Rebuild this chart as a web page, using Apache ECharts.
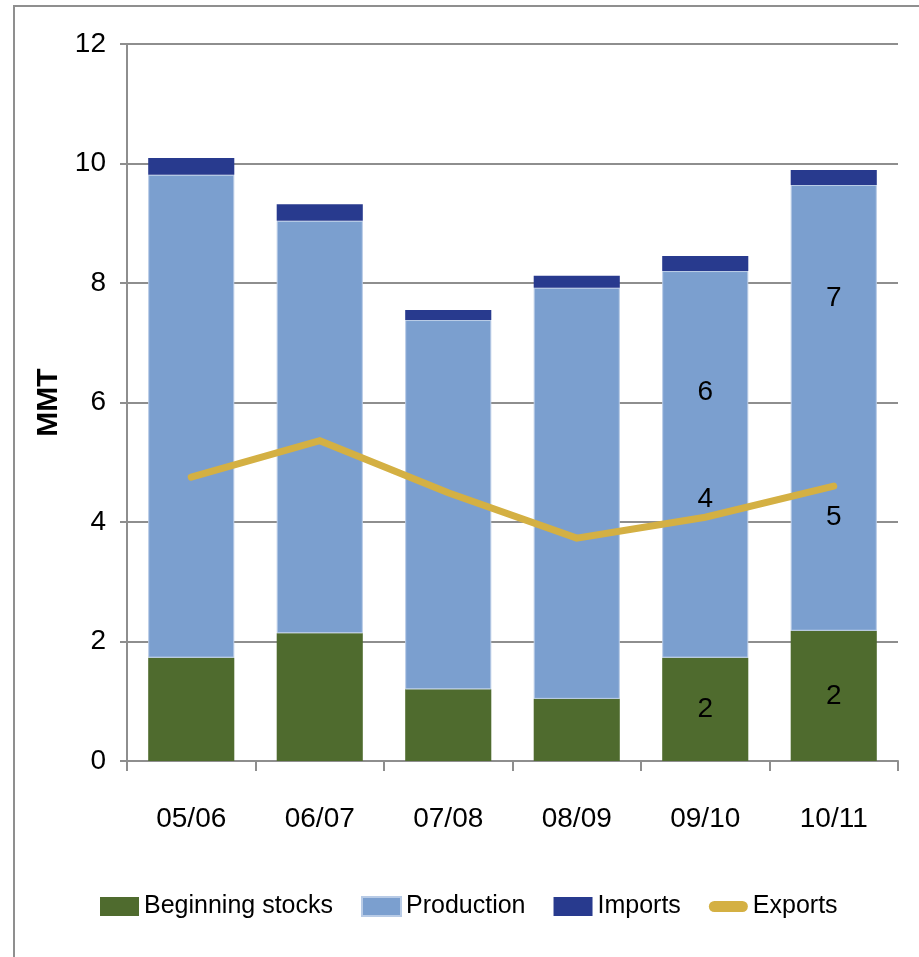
<!DOCTYPE html>
<html>
<head>
<meta charset="utf-8">
<script src="https://cdn.jsdelivr.net/npm/echarts@6/dist/echarts.min.js"></script>
<style>
html,body{margin:0;padding:0;background:#fff;}
#c{width:919px;height:957px;}
</style>
</head>
<body>
<div id="c"></div>
<script>
const categories = ['05/06', '06/07', '07/08', '08/09', '09/10', '10/11'];
const beginningStocks = [1.73, 2.14, 1.20, 1.04, 1.73, 2.18];
const production = [8.08, 6.90, 6.18, 6.88, 6.47, 7.46];
const imports = [0.28, 0.28, 0.17, 0.20, 0.25, 0.25];
const exportsData = [4.75, 5.36, 4.49, 3.73, 4.08, 4.60];
const yTicks = [0, 2, 4, 6, 8, 10, 12];
const labelledCategories = ['09/10', '10/11'];

const FONT = "'Liberation Sans', Arial, sans-serif";
const FS = 28;

function withLabels(values, labelFor) {
  return values.map((v, i) => {
    const cfg = labelledCategories.includes(categories[i]) ? labelFor(i) : null;
    return cfg ? { value: v, label: Object.assign({ show: true, formatter: p => String(Math.round(p.value)), color: '#000', fontFamily: FONT, fontSize: FS }, cfg) } : v;
  });
}

const chart = echarts.init(document.getElementById('c'), null, { renderer: 'canvas' });
const option = {
  animation: false,
  backgroundColor: '#fff',
  graphic: [{
    type: 'rect', silent: true, z: -10,
    shape: { x: 14, y: 6, width: 1000, height: 1000 },
    style: { fill: 'none', stroke: '#8f8f8f', lineWidth: 2 }
  }],
  grid: { left: 127, right: 21, top: 44, bottom: 196, containLabel: false },
  legend: {
    left: 100, top: 894, padding: 0, itemWidth: 39, itemHeight: 19, itemGap: 28,
    textStyle: { fontFamily: FONT, fontSize: 25, color: '#000' },
    data: [
      { name: 'Beginning stocks', icon: 'rect' },
      { name: 'Production', icon: 'rect' },
      { name: 'Imports', icon: 'rect' },
      { name: 'Exports', icon: 'path://M0,0M39,19M5.5,4L33.5,4A5.5,5.5,0,0,1,33.5,15L5.5,15A5.5,5.5,0,0,1,5.5,4Z' }
    ]
  },
  xAxis: {
    type: 'category', data: categories,
    axisLine: { lineStyle: { color: '#8e8e8e', width: 2 } },
    axisTick: { show: true, length: 10, lineStyle: { color: '#8e8e8e', width: 2 } },
    axisLabel: { fontFamily: FONT, fontSize: FS, color: '#000', margin: 44 }
  },
  yAxis: {
    type: 'value', min: 0, max: 12, interval: 2,
    name: 'MMT', nameLocation: 'middle', nameGap: 62, nameRotate: 90,
    nameTextStyle: { fontFamily: FONT, fontWeight: 'bold', fontSize: 30, color: '#000' },
    axisLine: { show: true, lineStyle: { color: '#8e8e8e', width: 2 } },
    axisTick: { show: true, length: 7, lineStyle: { color: '#8e8e8e', width: 2 } },
    splitLine: { show: true, lineStyle: { color: '#8e8e8e', width: 2 } },
    axisLabel: { fontFamily: FONT, fontSize: FS, color: '#000', margin: 21,
      formatter: v => yTicks.includes(v) ? String(v) : '' }
  },
  series: [
    {
      name: 'Beginning stocks', type: 'bar', stack: 's', barCategoryGap: '33%',
      itemStyle: { color: '#4F6B2E' },
      data: withLabels(beginningStocks, () => ({ position: 'inside' }))
    },
    {
      name: 'Production', type: 'bar', stack: 's',
      itemStyle: { color: '#7B9FCF', borderColor: '#b8cbe6', borderWidth: 1 },
      data: withLabels(production, i => ({ position: 'inside', offset: [0, categories[i] === '09/10' ? -72 : -110] }))
    },
    {
      name: 'Imports', type: 'bar', stack: 's',
      itemStyle: { color: '#283A8E' },
      data: imports
    },
    {
      name: 'Exports', type: 'line', symbol: 'circle', symbolSize: 1, showSymbol: true, z: 5,
      itemStyle: { color: '#D4B043' },
      lineStyle: { color: '#D4B043', width: 7, cap: 'round', join: 'miter' },
      data: withLabels(exportsData, i => categories[i] === '09/10' ? { position: 'top', distance: 3 } : { position: 'bottom', distance: 17 })
    }
  ]
};
chart.setOption(option);
</script>
</body>
</html>
